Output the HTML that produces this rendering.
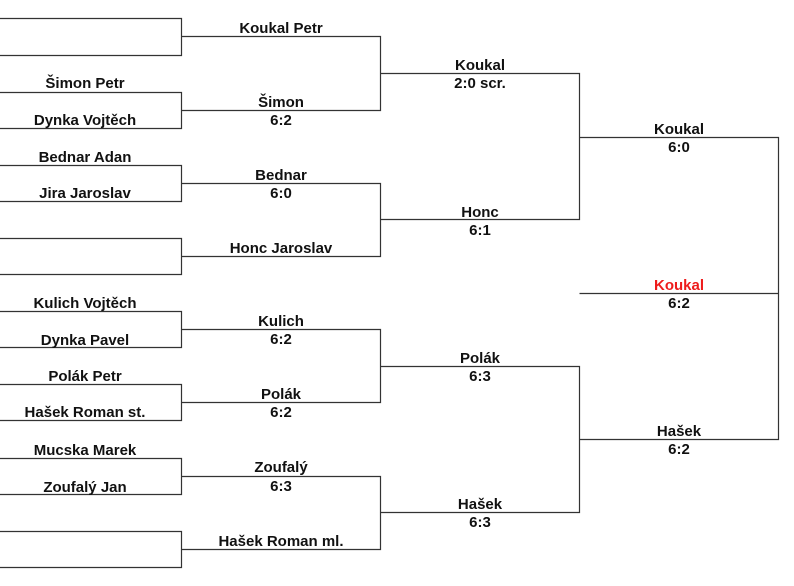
<!DOCTYPE html>
<html><head><meta charset="utf-8"><style>
html,body{margin:0;padding:0;background:#fff;width:794px;height:586px;overflow:hidden}
svg text{font-family:"Liberation Sans",Arial,sans-serif;font-weight:bold;font-size:15px;fill:#111;text-anchor:middle}
</style></head><body>
<svg width="794" height="586" viewBox="0 0 794 586" xmlns="http://www.w3.org/2000/svg">
<g fill="none" stroke="#333" stroke-width="1.2">
<path d="M0 18.5H181.5V55.5H0"/>
<path d="M0 92.5H181.5V128.5H0"/>
<path d="M0 165.5H181.5V201.5H0"/>
<path d="M0 238.5H181.5V274.5H0"/>
<path d="M0 311.5H181.5V347.5H0"/>
<path d="M0 384.5H181.5V420.5H0"/>
<path d="M0 458.5H181.5V494.5H0"/>
<path d="M0 531.5H181.5V567.5H0"/>
<path d="M181.5 36.5H380.5V110.5H181.5"/>
<path d="M181.5 183.5H380.5V256.5H181.5"/>
<path d="M181.5 329.5H380.5V402.5H181.5"/>
<path d="M181.5 476.5H380.5V549.5H181.5"/>
<path d="M380.5 73.5H579.5V219.5H380.5"/>
<path d="M380.5 366.5H579.5V512.5H380.5"/>
<path d="M579.5 137.5H778.5V439.5H579.5"/>
<path d="M579.5 293.5H778.5"/>
</g>
<g>
<text x="85" y="88">Šimon Petr</text>
<text x="85" y="125">Dynka Vojtěch</text>
<text x="85" y="162">Bednar Adan</text>
<text x="85" y="198">Jira Jaroslav</text>
<text x="85" y="308">Kulich Vojtěch</text>
<text x="85" y="345">Dynka Pavel</text>
<text x="85" y="381">Polák Petr</text>
<text x="85" y="417">Hašek Roman st.</text>
<text x="85" y="455">Mucska Marek</text>
<text x="85" y="492">Zoufalý Jan</text>

<text x="281" y="33">Koukal Petr</text>
<text x="281" y="107">Šimon</text><text x="281" y="125">6:2</text>
<text x="281" y="180">Bednar</text><text x="281" y="198">6:0</text>
<text x="281" y="253">Honc Jaroslav</text>
<text x="281" y="326">Kulich</text><text x="281" y="344">6:2</text>
<text x="281" y="399">Polák</text><text x="281" y="417">6:2</text>
<text x="281" y="472">Zoufalý</text><text x="281" y="491">6:3</text>
<text x="281" y="546">Hašek Roman ml.</text>

<text x="480" y="70">Koukal</text><text x="480" y="88">2:0 scr.</text>
<text x="480" y="217">Honc</text><text x="480" y="235">6:1</text>
<text x="480" y="363">Polák</text><text x="480" y="381">6:3</text>
<text x="480" y="509">Hašek</text><text x="480" y="527">6:3</text>

<text x="679" y="134">Koukal</text><text x="679" y="152">6:0</text>
<text x="679" y="436">Hašek</text><text x="679" y="454">6:2</text>
<text x="679" y="290" style="fill:#ee1c1c">Koukal</text><text x="679" y="308">6:2</text>
</g>
</svg>
</body></html>
